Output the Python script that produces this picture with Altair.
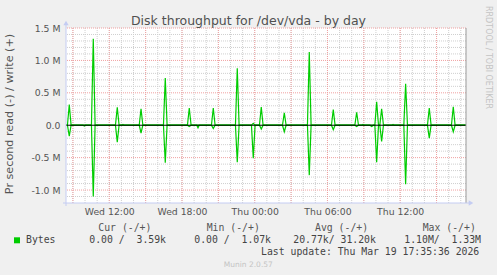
import altair as alt
import pandas as pd

# ---------------- data ----------------
title_text = "Disk throughput for /dev/vda - by day"
y_title = "Pr second read (-) / write (+)"
watermark = "RRDTOOL / TOBI OETIKER"
footer = "Munin 2.0.57"
last_update = "Last update: Thu Mar 19 17:35:36 2026"
series_name = "Bytes"
legend_headers = ["Cur (-/+)", "Min (-/+)", "Avg (-/+)", "Max (-/+)"]
legend_values = ["0.00 /  3.59k", "0.00 /  1.07k", "20.77k/ 31.20k", "1.10M/  1.33M"]

# hours since Wed 00:00
x_domain = [8.43, 41.43]
x_tick_hours = [12, 18, 24, 30, 36]
x_tick_labels = ["Wed 12:00", "Wed 18:00", "Thu 00:00", "Thu 06:00", "Thu 12:00"]
minor_x = list(range(9, 42))
major_x = list(range(9, 42, 3))

# values in millions of bytes per second
y_domain = [-1.2, 1.5]
y_ticks = [-1.0, -0.5, 0.0, 0.5, 1.0, 1.5]
y_tick_labels = ["-1.0 M", "-0.5 M", "0.0", "0.5 M", "1.0 M", "1.5 M"]
minor_y = [-1.1, -0.9, -0.8, -0.7, -0.6, -0.4, -0.3, -0.2, -0.1,
           0.1, 0.2, 0.3, 0.4, 0.6, 0.7, 0.8, 0.9, 1.1, 1.2, 1.3, 1.4]
major_y = [-1.0, -0.5, 0.5, 1.0, 1.5]

spike_hours = [8.70, 10.68, 12.66, 14.62, 16.62, 18.60, 20.58, 22.56, 23.88, 24.54,
               26.44, 28.50, 30.48, 32.41, 33.65, 34.06, 34.47, 36.45, 38.40, 40.38]
write_peak = [0.32, 1.335, 0.275, 0.255, 0.73, 0.265, 0.265, 0.88, 0.03, 0.28,
              0.19, 1.13, 0.24, 0.20, 0.0, 0.36, 0.255, 0.64, 0.265, 0.285]
read_peak = [0.17, 1.10, 0.26, 0.12, 0.58, 0.02, 0.05, 0.57, 0.51, 0.06,
             0.10, 0.77, 0.07, 0.02, 0.02, 0.57, 0.25, 0.91, 0.20, 0.10]
blip_hours = [9.94, 13.13, 19.32, 32.93, 35.41]
blip_write = [0.0, 0.012, 0.0, 0.012, 0.012]
blip_read = [0.012, 0.0, 0.04, 0.0, 0.0]

# ---------------- build table ----------------
rows = []
for name, peaks, blips, sign in [("write", write_peak, blip_write, 1),
                                 ("read", read_peak, blip_read, -1)]:
    pts = [(x_domain[0], 0.0), (x_domain[1], 0.0)]
    for h, v in zip(spike_hours, peaks):
        pts += [(h - 0.15, 0.0), (h, sign * v), (h + 0.15, 0.0)]
    for h, v in zip(blip_hours, blips):
        pts += [(h - 0.1, 0.0), (h, sign * v), (h + 0.1, 0.0)]
    pts.sort()
    for h, v in pts:
        rows.append({"s": name, "h": h, "v": v})
line_df = pd.DataFrame(rows)

def chain_expr(vals, labels):
    expr = "''"
    for v, l in reversed(list(zip(vals, labels))):
        expr = f"datum.value == {v} ? '{l}' : {expr}"
    return expr

def nb(s):
    return s.replace(" ", "\u00a0")

SANS = "DejaVu Sans"
MONO = "DejaVu Sans Mono"
GREEN = "#00CC00"
AXBLUE = "#c4ccf2"
TXT = "#555555"

xs = alt.Scale(domain=x_domain, nice=False, zero=False)
ys = alt.Scale(domain=y_domain, nice=False, zero=False)

x_axis = alt.Axis(
    values=x_tick_hours, labelExpr=chain_expr(x_tick_hours, x_tick_labels),
    grid=False, ticks=False, domain=False, labelPadding=4, labelFontSize=9.3,
    labelColor=TXT, labelFont=SANS, title=None, labelFlush=False)
y_axis = alt.Axis(
    values=y_ticks, labelExpr=chain_expr(y_ticks, y_tick_labels),
    grid=False, ticks=False, domain=False, labelPadding=6, labelFontSize=9.3,
    labelColor=TXT, labelFont=SANS, title=None)

one = pd.DataFrame({"a": [0]})

def label(txt, px, py, size, color, font, align="left", angle=0, baseline="alphabetic"):
    return alt.Chart(pd.DataFrame({"t": [nb(txt)]})).mark_text(
        align=align, baseline=baseline, fontSize=size, color=color, font=font, angle=angle
    ).encode(x=alt.value(px), y=alt.value(py), text="t:N")

gx_minor = alt.Chart(pd.DataFrame({"h": minor_x})).mark_rule(
    color="#cfcfcf", strokeDash=[1, 1], strokeWidth=1).encode(
    x=alt.X("h:Q", scale=xs, axis=x_axis))
gy_minor = alt.Chart(pd.DataFrame({"v": minor_y})).mark_rule(
    color="#cfcfcf", strokeDash=[1, 1], strokeWidth=1).encode(
    y=alt.Y("v:Q", scale=ys, axis=y_axis))
gx_major = alt.Chart(pd.DataFrame({"h": major_x})).mark_rule(
    color="#f0a0a0", strokeDash=[1, 1], strokeWidth=1).encode(
    x=alt.X("h:Q", scale=xs, axis=x_axis))
gy_major = alt.Chart(pd.DataFrame({"v": major_y})).mark_rule(
    color="#f0a0a0", strokeDash=[1, 1], strokeWidth=1).encode(
    y=alt.Y("v:Q", scale=ys, axis=y_axis))

lines = alt.Chart(line_df).mark_line(color=GREEN, strokeWidth=1.2).encode(
    x=alt.X("h:Q", scale=xs, axis=x_axis),
    y=alt.Y("v:Q", scale=ys, axis=y_axis),
    detail="s:N",
)

zero_line = alt.Chart(pd.DataFrame({"v": [0.0]})).mark_rule(
    color="#000000", strokeWidth=1).encode(y=alt.Y("v:Q", scale=ys, axis=y_axis))
right_edge = alt.Chart(pd.DataFrame({"h": [x_domain[1]]})).mark_rule(
    color="#999999", strokeWidth=1).encode(x=alt.X("h:Q", scale=xs, axis=x_axis))

x_axis_line = alt.Chart(one).mark_rule(color=AXBLUE, strokeWidth=1).encode(
    x=alt.value(-3), x2=alt.value(403), y=alt.value(175))
y_axis_line = alt.Chart(one).mark_rule(color=AXBLUE, strokeWidth=1).encode(
    x=alt.value(0), y=alt.value(-4), y2=alt.value(178))
arrow_r = alt.Chart(one).mark_point(shape="triangle-right", filled=True, size=28,
                                    color=AXBLUE, opacity=1).encode(
    x=alt.value(405), y=alt.value(175))
arrow_u = alt.Chart(one).mark_point(shape="triangle-up", filled=True, size=28,
                                    color=AXBLUE, opacity=1).encode(
    x=alt.value(0), y=alt.value(-5))

legend_box = alt.Chart(one).mark_point(shape="square", filled=True, size=36,
                                       color=GREEN, opacity=1).encode(
    x=alt.value(-49), y=alt.value(212.3))

texts = [
    label(title_text, 182.5, -3.5, 12.5, "#505050", SANS, align="center"),
    label(y_title, -56.5, 86, 11.2, TXT, SANS, align="center", angle=270, baseline="middle"),
    label(watermark, 421.5, 29.5, 8, "#c4c4c4", SANS, align="center", angle=90, baseline="middle"),
    label(series_name, -40, 215.3, 9.8, "#444444", MONO),
    label(last_update, 195, 227.3, 9.8, "#444444", MONO),
    label(footer, 182.3, 238.7, 7.5, "#c4c4c4", SANS, align="center"),
]
for txt, px in zip(legend_headers, [32.3, 140.7, 249, 356.7]):
    texts.append(label(txt, px, 203, 9.8, "#555555", MONO))
for txt, px in zip(legend_values, [23.3, 128.3, 227.3, 338.3]):
    texts.append(label(txt, px, 215.3, 9.8, "#444444", MONO))

chart = alt.layer(
    gx_minor, gy_minor, gx_major, gy_major, lines, zero_line, right_edge,
    x_axis_line, y_axis_line, arrow_r, arrow_u, legend_box, *texts
).properties(
    width=400, height=175, background="#F0F0F0",
    padding={"left": 66, "top": 28, "right": 31, "bottom": 72},
    autosize=alt.AutoSizeParams(type="none"),
).configure_view(stroke=None, fill="white")

chart.save("out.html", embed_options={"renderer": "svg", "actions": False})
